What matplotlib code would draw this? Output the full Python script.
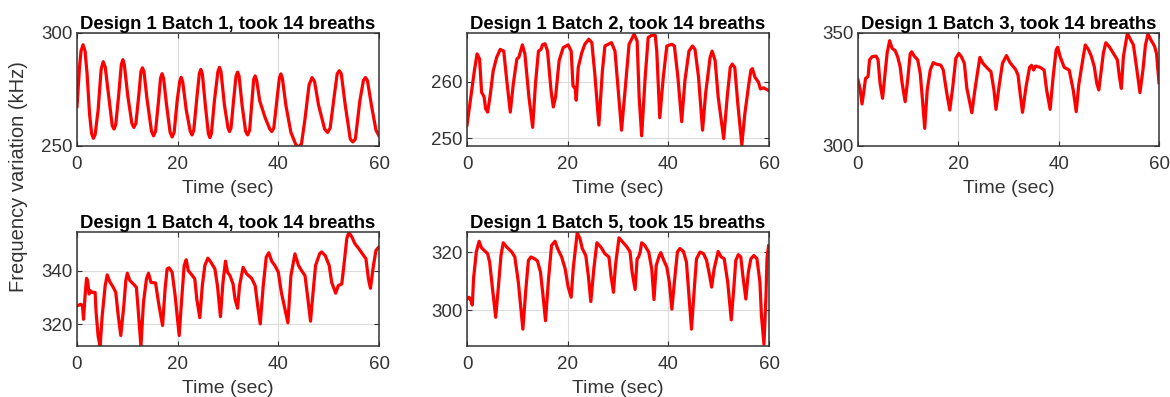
"""
Frequency variation over one minute of breathing for the five Design 1 batches.
Each panel shows the sensor resonance shift (kHz) against time (s).
"""

import matplotlib

matplotlib.use("Agg")
import matplotlib.pyplot as plt

# ---------------------------------------------------------------------------
# Data: (time, frequency), one pair of lists per batch
# ---------------------------------------------------------------------------
t_batch1 = [0.0, 0.5, 0.8, 1.2, 1.6, 2.0, 2.5, 2.9, 3.25, 3.6, 4.2, 4.8, 5.2, 5.6, 6.3, 7.0,
            7.35, 7.7, 8.3, 8.8, 9.1, 9.4, 10.1, 10.9, 11.3, 11.7, 12.3, 12.7, 13.0, 13.3,
            13.9, 14.8, 15.2, 15.6, 16.2, 16.6, 16.9, 17.2, 17.8, 18.5, 18.9, 19.3, 19.9,
            20.4, 20.7, 21.0, 21.7, 22.5, 22.85, 23.2, 23.8, 24.3, 24.6, 24.9, 25.5, 26.1,
            26.4, 26.7, 27.3, 28.0, 28.3, 28.6, 29.3, 30.0, 30.3, 30.6, 31.1, 31.6, 31.9,
            32.2, 32.8, 33.5, 33.9, 34.3, 34.8, 35.1, 35.4, 35.7, 36.3, 37.35, 38.3, 38.7,
            39.1, 39.7, 40.2, 40.5, 40.8, 41.5, 42.5, 43.5, 44.1, 44.6, 45.3, 46.1, 46.7,
            47.2, 48.0, 49.2, 49.8, 50.3, 51.1, 51.7, 52.1, 52.5, 53.3, 54.3, 54.8, 55.3,
            56.2, 56.9, 57.3, 57.7, 58.5, 59.4, 60.0]
f_batch1 = [267.5, 285, 292, 294.8, 292, 282, 264, 255.5, 253.4, 255, 266, 284, 287.3, 285,
            272, 259, 257.5, 259.5, 273, 286, 288.2, 286, 272, 260, 258.2, 260, 273, 283,
            284.6, 283, 271, 256.5, 254.5, 256.5, 270, 280, 282, 280, 268, 256, 254, 256,
            270, 278.5, 280.4, 278.5, 266, 256.5, 254.9, 257, 271, 282, 283.9, 282, 268,
            255.5, 253.7, 255.5, 270, 283, 284.8, 283, 268, 258, 256.4, 258, 270, 281,
            282.7, 281, 268, 256.5, 254.9, 257, 271, 279.5, 281, 279, 270, 262.7, 257.5,
            256.4, 258, 270, 280, 281.9, 280, 268, 256, 250.5, 249.6, 251, 262, 277, 280.3,
            278.5, 268, 257.5, 256, 258, 272, 282, 283.3, 282, 268, 253, 251.8, 253, 270,
            279, 280.3, 279, 268, 257, 254.5]

t_batch2 = [0.0, 0.93, 1.46, 2.0, 2.5, 2.9, 3.4, 3.7, 4.1, 4.6, 5.2, 5.9, 6.6, 7.3, 7.9, 8.6,
            9.2, 9.9, 10.3, 11.0, 11.5, 12.3, 13.05, 13.6, 14.2, 14.7, 15.0, 15.5, 16.0,
            16.7, 17.15, 17.6, 18.3, 19.1, 20.1, 20.7, 21.05, 21.5, 21.7, 22.1, 22.8, 23.4,
            24.2, 24.8, 25.4, 26.2, 26.9, 27.4, 28.7, 29.4, 30.7, 31.4, 32.2, 33.2, 33.8,
            34.2, 34.7, 35.4, 36.0, 36.7, 37.4, 37.7, 38.3, 39.0, 39.7, 40.7, 41.2, 41.9,
            42.65, 43.3, 44.1, 44.8, 45.3, 46.0, 46.8, 47.4, 48.3, 48.7, 49.3, 49.9, 51.0,
            51.7, 52.3, 52.7, 53.2, 53.8, 54.6, 55.2, 55.9, 56.4, 56.7, 57.2, 57.9, 58.3,
            58.9, 60.0]
f_batch2 = [252.3, 258.4, 261.9, 264.9, 264.0, 258.1, 257.3, 255.2, 254.6, 257.5, 261.9,
            264.3, 265.7, 265.4, 260.2, 254.6, 259.6, 264.0, 264.3, 266.5, 264.9, 257.3,
            251.9, 259.6, 265.4, 265.7, 266.5, 266.7, 265.4, 258.4, 255.5, 257.3, 263.7,
            266.0, 266.5, 265.4, 259.3, 258.7, 256.7, 262.5, 265.1, 266.6, 267.5, 266.9,
            261.3, 252.3, 261.9, 266.3, 266.9, 265.4, 251.4, 258.4, 266.6, 268.4, 267.2,
            257.3, 250.4, 260.8, 267.8, 268.2, 268.2, 265.4, 253.6, 260.8, 266.3, 266.6,
            266.3, 260.8, 252.9, 260.2, 265.4, 266.3, 265.7, 260.8, 251.4, 257.8, 264.3,
            265.4, 263.7, 257.3, 249.9, 257.3, 262.5, 263.1, 262.5, 256.1, 248.8, 254.3,
            259.0, 262.0, 262.3, 260.8, 259.9, 258.7, 258.9, 258.4]

t_batch3 = [0.0, 0.4, 0.8, 1.2, 1.5, 2.0, 2.3, 2.8, 3.6, 4.0, 4.4, 4.9, 5.4, 5.8, 6.3, 6.8,
            7.4, 7.9, 8.4, 8.8, 9.4, 9.9, 10.4, 10.7, 11.2, 11.9, 12.4, 12.8, 13.3, 13.8,
            14.4, 15.0, 15.5, 16.5, 17.0, 17.7, 18.3, 18.9, 19.5, 20.1, 20.6, 21.2, 21.7,
            22.7, 23.3, 23.9, 24.3, 24.9, 25.8, 26.5, 27.1, 27.5, 28.2, 28.8, 29.6, 30.3,
            31.4, 31.9, 32.4, 32.8, 33.5, 34.2, 34.6, 35.0, 35.4, 36.3, 37.1, 37.6, 38.3,
            38.9, 39.5, 39.8, 40.3, 41.1, 42.1, 42.9, 43.5, 44.0, 44.8, 45.3, 45.9, 46.5,
            47.1, 47.6, 48.0, 48.5, 48.9, 49.4, 50.1, 51.1, 51.7, 52.1, 52.5, 52.9, 53.7,
            54.2, 54.9, 55.6, 56.2, 56.8, 57.3, 57.8, 58.4, 59.1, 59.5, 60.0]
f_batch3 = [329.2, 325.5, 318.6, 324.8, 329.9, 330.7, 338.1, 339.5, 339.8, 338.1, 327.7,
            321.1, 332.2, 341.0, 346.6, 343.2, 342.2, 339.5, 335.1, 327.7, 319.6, 329.2,
            340.7, 341.7, 339.8, 338.1, 332.2, 321.8, 307.8, 324.8, 333.6, 336.9, 336.3,
            335.8, 333.6, 323.3, 315.9, 326.3, 338.8, 341.0, 339.5, 336.6, 325.5, 314.7,
            324.8, 333.6, 339.2, 336.6, 334.4, 332.9, 324.8, 316.2, 327.7, 336.6, 340.0,
            336.9, 333.9, 331.4, 321.8, 314.9, 326.3, 334.8, 335.7, 333.6, 335.4, 334.8,
            333.6, 324.8, 316.2, 330.7, 342.5, 343.7, 339.5, 334.8, 333.6, 324.8, 315.2,
            327.0, 338.1, 344.7, 342.8, 339.8, 335.1, 327.7, 324.8, 333.6, 341.0, 345.7,
            343.9, 340.3, 338.1, 330.7, 325.5, 339.5, 349.9, 347.6, 344.7, 333.6, 323.6,
            333.6, 344.7, 349.6, 346.9, 344.2, 341.0, 328.0]

t_batch4 = [0.0, 0.8, 1.1, 1.3, 1.6, 1.9, 2.1, 2.4, 2.7, 3.0, 3.6, 3.8, 4.2, 4.6, 5.0, 5.6,
            6.0, 6.5, 7.2, 7.7, 8.2, 8.7, 9.3, 9.7, 10.0, 10.5, 11.2, 11.8, 12.2, 12.7,
            13.2, 13.8, 14.2, 14.7, 15.6, 16.3, 17.0, 17.5, 17.9, 18.3, 18.9, 19.5, 20.3,
            20.8, 21.3, 21.7, 22.1, 22.8, 23.4, 23.8, 24.4, 24.9, 25.4, 26.0, 26.6, 27.4,
            27.9, 28.5, 29.0, 29.5, 29.9, 30.4, 31.0, 31.4, 31.9, 32.3, 33.0, 33.7, 34.7,
            35.4, 35.9, 36.4, 37.0, 37.6, 38.1, 38.7, 39.3, 40.0, 40.6, 41.9, 42.5, 43.3,
            44.0, 44.6, 45.3, 45.8, 46.4, 46.9, 47.4, 48.2, 48.6, 49.3, 50.1, 50.6, 51.4,
            51.9, 52.6, 53.1, 53.6, 54.0, 54.6, 55.2, 56.0, 56.7, 57.4, 57.9, 58.3, 58.9,
            59.4, 60.0]
f_batch4 = [326.9, 327.5, 326.6, 321.9, 330.6, 337.1, 336.3, 331.3, 332.5, 331.9, 331.9,
            324.4, 315.6, 311.9, 323.1, 334.4, 338.4, 335.9, 333.8, 331.9, 323.1, 315.9,
            326.9, 336.3, 339.0, 336.3, 335.0, 333.8, 324.4, 311.9, 328.1, 336.9, 339.0,
            335.6, 335.4, 326.9, 319.6, 333.1, 340.6, 341.0, 339.4, 330.6, 315.9, 329.4,
            341.9, 344.0, 340.0, 338.4, 336.9, 329.4, 322.5, 334.4, 341.9, 344.6, 343.1,
            340.6, 334.4, 322.9, 335.6, 343.5, 339.4, 338.1, 335.0, 329.4, 326.0, 334.4,
            341.2, 338.8, 337.1, 334.4, 326.9, 320.2, 334.4, 345.0, 346.6, 343.4, 341.9,
            339.4, 331.9, 320.6, 338.1, 346.2, 341.9, 340.0, 338.1, 330.6, 321.2, 331.9,
            341.9, 346.2, 346.9, 345.6, 341.9, 335.6, 331.6, 334.4, 335.0, 343.1, 351.9,
            354.1, 352.5, 350.0, 348.1, 346.2, 344.4, 336.9, 333.4, 341.9, 347.5, 348.8]

t_batch5 = [0.0, 0.4, 0.8, 1.06, 1.3, 1.85, 2.4, 2.9, 3.4, 4.1, 4.5, 5.0, 5.7, 6.2, 6.75,
            7.2, 7.9, 8.9, 9.5, 10.2, 11.1, 11.7, 12.2, 12.7, 13.4, 14.0, 14.6, 15.1, 15.6,
            16.2, 16.8, 17.5, 18.0, 18.8, 19.5, 20.1, 20.7, 21.1, 21.9, 22.45, 22.9, 23.6,
            24.1, 24.6, 25.2, 25.8, 26.6, 27.4, 28.2, 28.6, 29.1, 29.5, 30.2, 30.9, 31.8,
            32.4, 32.8, 33.4, 33.8, 34.1, 34.4, 34.7, 35.3, 36.1, 36.7, 37.15, 37.6, 38.2,
            38.5, 39.1, 39.7, 40.2, 40.7, 41.2, 41.8, 42.3, 43.0, 43.6, 44.1, 44.6, 45.2,
            45.6, 46.3, 47.0, 47.6, 48.2, 48.6, 49.1, 49.9, 50.5, 51.1, 51.8, 52.5, 53.0,
            53.4, 53.9, 54.4, 54.8, 55.4, 55.9, 56.4, 57.0, 57.6, 58.2, 58.5, 59.0, 59.4,
            59.6, 59.9]
f_batch5 = [303.8, 304.4, 303.2, 301.7, 310.8, 320.0, 323.7, 321.4, 320.6, 319.4, 316.5,
            308.4, 297.5, 307.3, 318.8, 323.2, 321.7, 320.0, 318.3, 309.6, 293.4, 307.3,
            317.1, 318.3, 317.7, 316.9, 313.1, 305.0, 296.3, 310.8, 322.3, 323.7, 321.2,
            318.3, 314.2, 307.9, 304.4, 314.2, 326.7, 324.6, 321.2, 318.8, 311.9, 302.9,
            314.2, 323.2, 321.7, 319.4, 318.3, 311.9, 306.1, 315.4, 324.9, 323.5, 321.7,
            320.0, 313.1, 307.1, 317.7, 318.3, 320.0, 323.2, 322.3, 320.0, 314.2, 303.6,
            315.4, 318.8, 319.8, 317.1, 314.8, 309.6, 300.3, 309.6, 320.0, 321.2, 320.2,
            316.5, 305.0, 293.4, 308.4, 317.7, 320.0, 319.4, 317.1, 311.9, 307.9, 314.2,
            320.2, 318.3, 317.7, 309.6, 296.6, 307.3, 317.1, 319.1, 318.3, 311.9, 303.8,
            313.1, 317.7, 318.8, 317.7, 309.6, 298.0, 288.2, 305.0, 317.7, 322.1]

titles = [
    "Design 1 Batch 1, took 14 breaths",
    "Design 1 Batch 2, took 14 breaths",
    "Design 1 Batch 3, took 14 breaths",
    "Design 1 Batch 4, took 14 breaths",
    "Design 1 Batch 5, took 15 breaths",
]
y_limits = [(250, 300), (248.6, 268.6), (300, 350), (312, 354.3), (287.6, 326.9)]
y_ticks = [[250, 300], [250, 260], [300, 350], [320, 340], [300, 320]]
x_ticks = [0, 20, 40, 60]

traces = [
    (t_batch1, f_batch1),
    (t_batch2, f_batch2),
    (t_batch3, f_batch3),
    (t_batch4, f_batch4),
    (t_batch5, f_batch5),
]

# ---------------------------------------------------------------------------
# Style (MATLAB-like axes: boxed, inward ticks on all sides, pale grid)
# ---------------------------------------------------------------------------
AX_COLOR = "#333333"
plt.rcParams.update({
    "font.family": ["Liberation Sans", "DejaVu Sans"],
    "font.size": 13,
    "axes.linewidth": 1.1,
    "axes.edgecolor": AX_COLOR,
    "xtick.direction": "in",
    "ytick.direction": "in",
    "xtick.top": True,
    "ytick.right": True,
    "xtick.major.size": 3.5,
    "ytick.major.size": 3.5,
    "xtick.color": AX_COLOR,
    "ytick.color": AX_COLOR,
    "xtick.labelsize": 13.5,
    "ytick.labelsize": 13.5,
    "xtick.major.pad": 7,
    "ytick.major.pad": 3,
})

fig = plt.figure(figsize=(11.70, 3.97), dpi=100)
W, H = 1170.0, 397.0

# axes boxes in pixels: (left, top, right, bottom)
boxes = [
    (77, 33, 379, 146),
    (467, 33, 769, 146),
    (858, 33, 1159, 146),
    (77, 232, 379, 346),
    (467, 232, 769, 346),
]

for (t, f), title, ylim, yt, (x0, y0, x1, y1) in zip(traces, titles, y_limits, y_ticks, boxes):
    ax = fig.add_axes([x0 / W, 1 - y1 / H, (x1 - x0) / W, (y1 - y0) / H])
    ax.plot(t, f, color="red", linewidth=2.3, solid_joinstyle="round")
    ax.set_xlim(0, 60)
    ax.set_ylim(*ylim)
    ax.set_xticks(x_ticks)
    ax.set_yticks(yt)
    ax.grid(True, color="#dcdcdc", linewidth=0.8)
    ax.set_axisbelow(True)
    ax.set_xlabel("Time (sec)", fontsize=14, color=AX_COLOR, labelpad=5)
    ax.set_title(title, fontsize=13.3, fontweight="bold", color="black", pad=3)

fig.text(19 / W, 1 - 177 / H, "Frequency variation (kHz)", rotation=90,
         ha="center", va="center", fontsize=14.5, color=AX_COLOR)

fig.savefig("out.png", dpi=100)
